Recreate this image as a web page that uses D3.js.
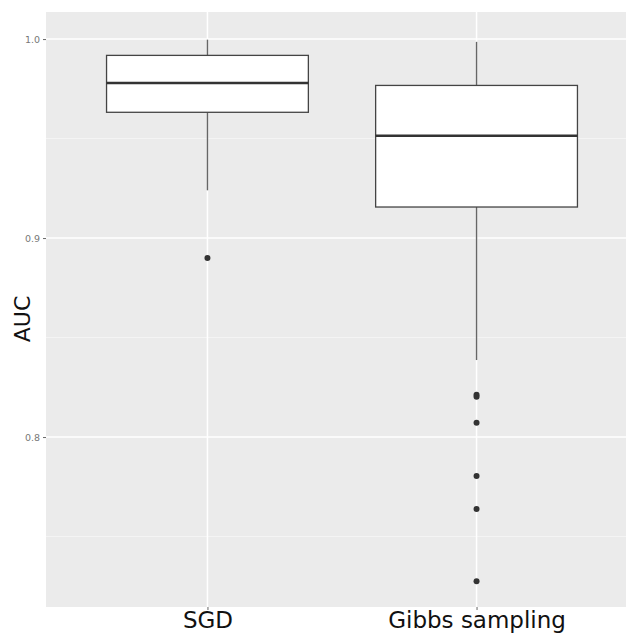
<!DOCTYPE html>
<html>
<head>
<meta charset="utf-8">
<script src="https://cdn.jsdelivr.net/npm/d3@7"></script>
<style>
  html, body { margin: 0; padding: 0; background: #fff; }
  svg { display: block; }
</style>
</head>
<body>
<svg id="chart" width="626" height="637"></svg>
<script>
// ---- data ----
const categories = ["SGD", "Gibbs sampling"];
const whiskerLow  = [0.924, 0.8387];
const q1          = [0.9632, 0.9156];
const median      = [0.9779, 0.9514];
const q3          = [0.9918, 0.9767];
const whiskerHigh = [0.9997, 0.9986];
const outliers    = [
  [0.890],
  [0.8212, 0.8202, 0.8072, 0.7804, 0.7638, 0.7276]
];
const yTicks = [0.8, 0.9, 1.0];
const yMinor = [0.75, 0.85, 0.95];

// ---- layout ----
const W = 626, H = 637;
const panel = { left: 46, top: 12, right: 638, bottom: 607 };

const svg = d3.select("#chart");

const x = d3.scaleLinear().domain([0.4, 2.6]).range([panel.left, panel.right]);
const y = d3.scaleLinear().domain([0.7146, 1.0136]).range([panel.bottom, panel.top]);
const boxHalf = 0.375;

// panel background
svg.append("rect")
  .attr("x", panel.left).attr("y", panel.top)
  .attr("width", panel.right - panel.left).attr("height", panel.bottom - panel.top)
  .attr("fill", "#ebebeb");

// minor gridlines
svg.append("g").selectAll("line").data(yMinor).join("line")
  .attr("x1", panel.left).attr("x2", panel.right)
  .attr("y1", d => y(d)).attr("y2", d => y(d))
  .attr("stroke", "#f7f7f7").attr("stroke-width", 0.8);

// major gridlines
svg.append("g").selectAll("line").data(yTicks).join("line")
  .attr("x1", panel.left).attr("x2", panel.right)
  .attr("y1", d => y(d)).attr("y2", d => y(d))
  .attr("stroke", "#fff").attr("stroke-width", 1.5);

svg.append("g").selectAll("line").data(categories).join("line")
  .attr("x1", (d, i) => x(i + 1)).attr("x2", (d, i) => x(i + 1))
  .attr("y1", panel.top).attr("y2", panel.bottom)
  .attr("stroke", "#fff").attr("stroke-width", 1.5);

// y axis
const yAxis = d3.axisLeft(y).tickValues(yTicks).tickFormat(d3.format(".1f")).tickSize(3).tickPadding(3);
const gy = svg.append("g").attr("transform", `translate(${panel.left},0)`).call(yAxis);
gy.select(".domain").remove();
gy.selectAll(".tick line").attr("stroke", "#666");
gy.selectAll(".tick text").attr("fill", "#777").attr("font-size", 9.5)
  .attr("font-family", "DejaVu Sans, sans-serif");

// x axis
const xAxis = d3.axisBottom(x).tickValues([1, 2]).tickFormat((d) => categories[d - 1]).tickSize(3).tickPadding(2);
const gx = svg.append("g").attr("transform", `translate(0,${panel.bottom})`).call(xAxis);
gx.select(".domain").remove();
gx.selectAll(".tick line").attr("stroke", "#666");
gx.selectAll(".tick text").attr("fill", "#111").attr("font-size", 23)
  .attr("font-family", "DejaVu Sans, sans-serif");

// y title
svg.append("text")
  .attr("transform", `translate(30,319) rotate(-90)`)
  .attr("text-anchor", "middle")
  .attr("font-size", 22)
  .attr("font-family", "DejaVu Sans, sans-serif")
  .attr("fill", "#111")
  .text("AUC");

// boxes
const boxes = svg.append("g");
categories.forEach((c, i) => {
  const cx = x(i + 1);
  const g = boxes.append("g");
  // whiskers
  g.append("line").attr("x1", cx).attr("x2", cx)
    .attr("y1", y(q3[i])).attr("y2", y(whiskerHigh[i]))
    .attr("stroke", "#666").attr("stroke-width", 1.4);
  g.append("line").attr("x1", cx).attr("x2", cx)
    .attr("y1", y(q1[i])).attr("y2", y(whiskerLow[i]))
    .attr("stroke", "#666").attr("stroke-width", 1.4);
  // box
  g.append("rect")
    .attr("x", x(i + 1 - boxHalf)).attr("width", x(i + 1 + boxHalf) - x(i + 1 - boxHalf))
    .attr("y", y(q3[i])).attr("height", y(q1[i]) - y(q3[i]))
    .attr("fill", "#fff").attr("stroke", "#444").attr("stroke-width", 1.3);
  // median
  g.append("line")
    .attr("x1", x(i + 1 - boxHalf)).attr("x2", x(i + 1 + boxHalf))
    .attr("y1", y(median[i])).attr("y2", y(median[i]))
    .attr("stroke", "#333").attr("stroke-width", 2.4);
  // outliers
  g.selectAll("circle").data(outliers[i]).join("circle")
    .attr("cx", cx).attr("cy", d => y(d)).attr("r", 3)
    .attr("fill", "#333");
});
</script>
</body>
</html>
